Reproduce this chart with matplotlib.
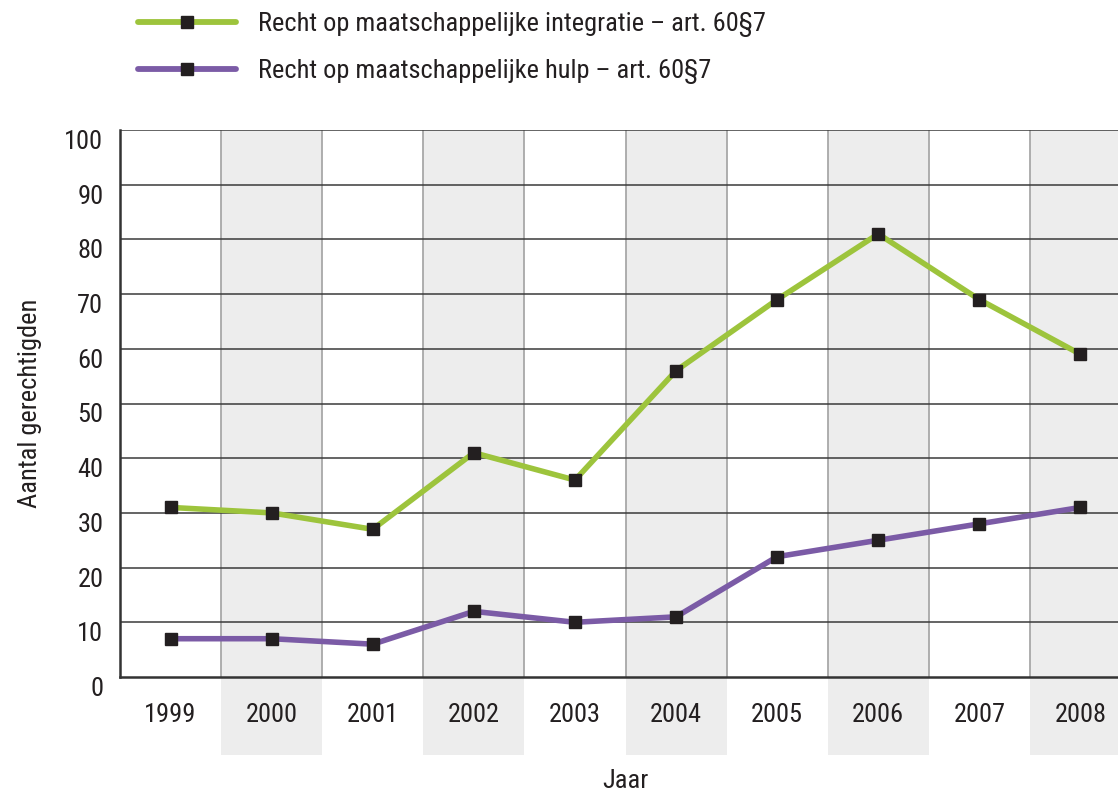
import matplotlib
matplotlib.use("Agg")
import matplotlib.pyplot as plt
from matplotlib import font_manager
from matplotlib.lines import Line2D
from matplotlib.patches import Rectangle
import matplotlib.transforms as mtransforms

years = ["1999", "2000", "2001", "2002", "2003", "2004", "2005", "2006", "2007", "2008"]
integratie = [31, 30, 27, 41, 36, 56, 69, 81, 69, 59]
hulp = [7, 7, 6, 12, 10, 11, 22, 25, 28, 31]
yticks = [0, 10, 20, 30, 40, 50, 60, 70, 80, 90, 100]
label_integratie = "Recht op maatschappelijke integratie – art. 60§7"
label_hulp = "Recht op maatschappelijke hulp – art. 60§7"

names = {f.name for f in font_manager.fontManager.ttflist}
fam = None
for cand in ["Liberation Sans Narrow", "Roboto Condensed", "Open Sans Condensed", "Noto Sans Condensed"]:
    if cand in names:
        fam = cand
        break
stretch = "normal"
if fam is None:
    fam = "DejaVu Sans"
    stretch = "condensed"
plt.rcParams["font.family"] = [fam, "DejaVu Sans"]
plt.rcParams["font.stretch"] = stretch

GREEN = "#9DC43C"
PURPLE = "#7B5BA6"
MARK = "#231F20"
SHADE = "#EDEDED"
TEXT = "#231F20"

fig = plt.figure(figsize=(11.18, 7.91), dpi=100)
ax = fig.add_axes([120/1118, 114/791, 1011/1118, 547/791])

x = list(range(len(years)))
ax.set_xlim(-0.5, len(years) - 0.5)
ax.set_ylim(0, 100)

trans = mtransforms.blended_transform_factory(ax.transData, ax.transAxes)
for i in x:
    if i % 2 == 1:
        ax.add_patch(Rectangle((i - 0.5, -0.143), 1, 1.143, transform=trans,
                               facecolor=SHADE, edgecolor="none", clip_on=False, zorder=0))
for i in range(1, len(years)):
    ax.axvline(i - 0.5, color="#A8A8A8", lw=1.3, zorder=1)
for v in yticks[1:]:
    ax.axhline(v, color="#3A3A3A", lw=1.1, zorder=1)

ax.plot(x, integratie, color=GREEN, lw=4, marker="s", ms=8, mfc=MARK, mec=MARK, zorder=3,
        label=label_integratie)
ax.plot(x, hulp, color=PURPLE, lw=4, marker="s", ms=8, mfc=MARK, mec=MARK, zorder=3,
        label=label_hulp)

for s in ["top", "right"]:
    ax.spines[s].set_visible(False)
for s in ["left", "bottom"]:
    ax.spines[s].set_color("#333333")
    ax.spines[s].set_linewidth(1.8)
    ax.spines[s].set_zorder(4)

ax.set_xticks(x)
ax.set_xticklabels(years)
ax.set_yticks(yticks)
ax.set_yticklabels([str(v) for v in yticks])
ax.tick_params(axis="both", length=0, labelsize=19, labelcolor=TEXT)
ax.tick_params(axis="x", pad=19)
ax.tick_params(axis="y", pad=12)
for lab in ax.get_yticklabels():
    lab.set_va("top")

ax.set_ylabel("Aantal gerechtigden", fontsize=19, color=TEXT, labelpad=16)
ax.set_xlabel("Jaar", fontsize=19, color=TEXT, labelpad=30)
ax.set_facecolor("white")

handles = [Line2D([], [], color=GREEN, lw=4.2, marker="s", ms=8, mfc=MARK, mec=MARK, solid_capstyle="round"),
           Line2D([], [], color=PURPLE, lw=4.2, marker="s", ms=8, mfc=MARK, mec=MARK, solid_capstyle="round")]
fig.legend(handles, [label_integratie, label_hulp], loc="upper left",
           bbox_to_anchor=(130/1118, 1.0 - 4/791), frameon=False, fontsize=19,
           handlelength=3.7, handletextpad=0.85, labelspacing=0.85, markerscale=1,
           labelcolor=TEXT, borderaxespad=0, borderpad=0.3)

fig.savefig("out.png", dpi=100)
